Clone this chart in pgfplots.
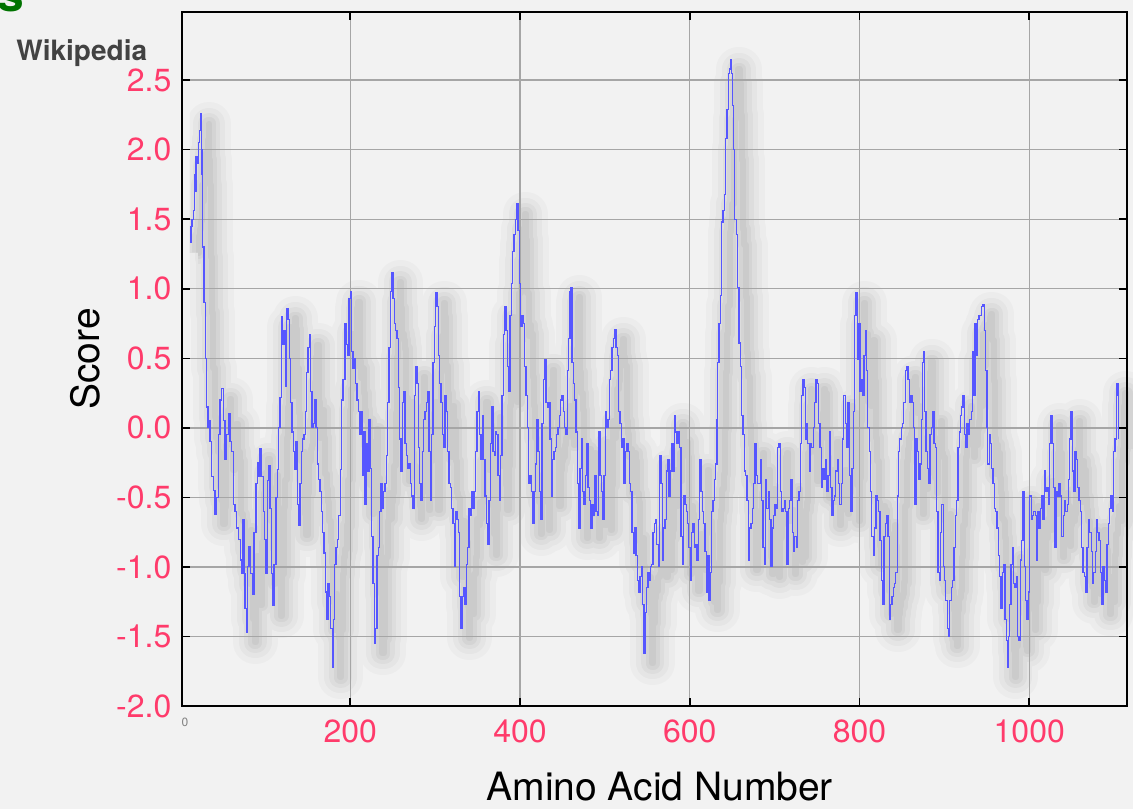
\documentclass[border=0pt]{standalone}
\usepackage{pgfplots}
\pgfplotsset{compat=1.18}
\usepackage{pgfplotstable}
\usepackage{fontspec}
\setmainfont{TeX Gyre Heros}

\definecolor{paper}{HTML}{F2F2F2}
\definecolor{hydro}{HTML}{5656FF}
\definecolor{ticktext}{HTML}{FF3B6B}
\definecolor{gridc}{HTML}{A6A6A6}
\definecolor{wikigray}{HTML}{424242}

% hydropathy score per residue
\pgfplotstableread{
x y
11.5 1.33
12.3 1.45
13.5 1.50
15.1 1.56
16.0 1.82
17.0 1.70
18.2 1.95
19.5 1.90
21.0 2.05
22.5 2.14
23.7 2.26
24.5 2.00
25.3 1.82
26.1 1.30
27.6 0.90
29.2 0.50
30.8 0.15
32.3 0.00
33.5 0.05
34.7 -0.10
36.7 -0.35
38.6 -0.45
40.6 -0.62
42.6 -0.50
44.5 -0.05
46.5 0.20
48.5 0.28
50.4 0.05
52.4 -0.23
54.3 -0.05
56.3 0.10
58.3 -0.10
60.2 -0.17
62.2 -0.55
64.2 -0.60
66.1 -0.72
68.1 -0.80
70.1 -0.95
72.0 -1.05
73.2 -0.66
74.8 -1.05
75.9 -1.30
77.9 -1.47
79.1 -1.00
80.7 -0.85
82.6 -1.05
84.6 -1.20
86.5 -0.75
88.9 -0.40
90.5 -0.25
92.0 -0.35
93.6 -0.15
95.6 -0.35
97.5 -0.60
99.1 -0.80
100.7 -1.05
102.3 -0.38
103.8 -0.27
105.4 -0.58
107.0 -1.05
108.5 -1.28
110.1 -0.98
112.5 -0.50
114.0 -0.30
115.6 0.00
117.2 0.22
118.8 0.80
120.3 0.60
121.9 0.70
123.5 0.30
125.0 0.86
126.6 0.78
128.2 0.50
129.7 0.18
131.3 -0.03
132.9 -0.17
134.5 -0.30
136.0 -0.10
137.6 -0.55
138.8 -0.70
140.7 -0.40
142.3 -0.17
143.9 -0.08
145.5 -0.05
147.0 0.12
148.6 0.40
150.2 0.58
151.7 0.67
153.3 0.26
154.9 0.00
156.5 0.03
158.0 0.20
159.6 0.00
161.2 -0.26
162.7 -0.37
164.3 -0.46
165.9 -0.60
167.5 -0.75
169.0 -0.90
170.6 -1.18
172.2 -1.38
173.7 -1.12
175.3 -1.21
176.9 -1.44
178.5 -1.72
180.0 -1.38
181.6 -0.98
183.2 -0.86
184.8 -0.80
186.3 -0.63
188.3 -0.30
189.8 0.20
191.4 0.35
193.8 0.75
195.3 0.60
196.9 0.52
198.5 0.93
200.0 0.98
201.6 0.55
203.2 0.43
204.8 0.50
206.3 0.32
207.9 0.20
209.5 0.12
211.0 -0.05
212.6 0.12
214.2 -0.34
215.8 -0.03
217.3 -0.55
218.9 -0.11
220.5 -0.31
222.0 0.06
223.6 -0.29
225.2 -0.78
226.7 -1.12
228.3 -1.55
229.9 -1.44
231.5 -0.92
233.0 -0.86
234.6 -0.60
236.2 -0.40
237.7 -0.58
239.3 -0.46
240.9 -0.40
242.5 -0.20
244.0 0.18
245.6 0.58
247.2 0.98
248.7 1.12
250.3 0.93
251.9 0.75
253.5 0.70
255.0 0.64
256.6 0.29
258.2 -0.08
259.7 -0.31
261.3 0.18
262.9 0.26
264.5 -0.11
266.0 -0.20
267.6 -0.29
269.2 -0.26
270.7 -0.40
272.3 -0.49
273.9 -0.58
275.4 0.23
277.0 0.44
278.6 0.32
280.2 -0.14
281.7 -0.40
283.3 -0.52
284.9 -0.17
286.5 0.06
288.0 0.12
289.6 0.18
291.2 0.26
292.7 -0.17
294.3 -0.52
295.9 -0.05
297.4 0.47
299.0 0.73
300.6 0.97
302.2 0.87
303.7 0.52
305.3 0.32
306.9 0.18
308.4 -0.05
310.0 -0.14
311.6 0.23
313.2 0.12
314.7 -0.17
316.3 -0.40
317.9 -0.43
319.4 -0.58
321.0 -0.69
322.6 -1.00
324.2 -0.60
325.7 -0.66
327.3 -0.75
328.9 -1.21
330.4 -1.44
332.0 -1.21
333.6 -1.15
335.1 -1.27
336.7 -0.98
338.3 -0.86
339.9 -0.58
341.4 -0.63
343.0 -0.46
344.6 -0.58
346.1 -0.46
347.7 -0.17
349.3 0.12
350.9 0.26
352.4 -0.05
354.0 -0.23
355.6 0.09
357.2 -0.23
358.7 -0.49
360.3 -0.69
361.9 -0.84
363.4 -0.52
365.0 -0.11
366.6 0.15
368.1 -0.17
369.7 -0.20
370.9 -0.03
372.5 -0.05
374.0 -0.34
375.6 -0.52
377.2 -0.20
378.7 0.23
380.3 0.67
381.9 0.87
383.5 0.70
385.0 0.44
386.6 0.26
388.2 0.81
389.7 1.04
391.3 1.27
392.9 1.39
394.5 1.50
396.0 1.61
397.6 1.42
399.2 1.04
400.7 0.73
402.3 0.81
403.9 0.75
405.4 0.44
407.0 0.23
408.6 0.00
410.2 -0.40
411.7 -0.34
413.3 -0.46
414.9 -0.69
416.4 -0.46
418.0 -0.26
419.6 0.06
421.2 -0.17
422.7 -0.46
424.3 -0.66
425.9 0.03
427.4 0.35
429.0 0.49
430.6 0.18
432.2 0.15
433.7 0.18
435.3 -0.08
436.9 -0.49
438.4 -0.23
440.0 -0.17
441.6 -0.14
443.2 -0.05
444.7 0.00
446.3 0.09
447.9 0.20
449.4 0.23
451.0 0.12
452.6 0.00
454.2 -0.05
455.7 0.41
457.3 0.64
458.9 0.98
459.7 1.01
461.2 0.47
462.8 0.32
464.4 0.20
465.9 -0.03
467.5 -0.40
469.1 -0.72
470.6 -0.29
472.2 -0.08
473.8 -0.46
475.4 -0.55
476.9 -0.34
478.5 -0.11
480.1 -0.43
481.6 -0.52
483.2 -0.72
484.8 -0.55
486.4 -0.63
487.9 -0.34
489.5 -0.60
491.1 -0.63
492.6 -0.03
494.2 -0.34
495.8 -0.46
497.4 -0.66
498.9 -0.34
500.5 0.12
502.1 0.00
503.6 0.06
505.2 0.35
506.8 0.41
508.4 0.58
509.9 0.64
511.5 0.71
513.1 0.58
514.6 0.52
516.2 0.12
517.8 0.03
519.4 -0.14
520.9 -0.08
522.5 -0.40
524.1 -0.17
525.6 -0.11
527.2 -0.17
528.8 -0.40
530.4 -0.46
531.9 -0.75
533.5 -0.90
535.1 -0.72
536.6 -0.92
538.2 -1.10
539.8 -1.18
541.3 -1.07
542.9 -1.00
544.5 -1.27
546.1 -1.62
547.6 -1.33
549.2 -1.15
550.8 -1.04
552.3 -1.10
553.5 -1.00
555.1 -0.98
556.6 -0.75
558.2 -0.69
559.8 -0.66
561.3 -0.84
562.9 -1.00
564.5 -0.20
566.1 -0.40
567.6 -0.95
569.2 -0.72
570.8 -0.66
572.3 -0.31
573.9 -0.23
575.5 -0.49
577.1 -0.31
578.6 -0.11
580.2 -0.31
581.8 0.09
583.3 -0.03
584.9 -0.11
586.5 -0.03
588.0 -0.14
589.6 -0.78
591.2 -0.98
592.8 -0.49
594.3 -0.55
595.9 -0.60
597.5 -0.69
599.0 -0.86
600.6 -1.10
602.2 -0.75
603.8 -0.69
605.3 -0.86
606.9 -0.84
608.5 -0.95
610.0 -0.66
611.6 -0.23
613.2 -0.46
614.8 -0.60
616.3 -0.69
617.9 -0.89
619.5 -1.18
621.0 -0.92
622.6 -1.24
624.2 -1.04
625.8 -0.60
627.3 -0.52
628.9 -0.37
630.5 -0.26
632.0 0.06
632.8 0.47
634.4 0.75
636.0 0.95
637.5 1.48
639.1 1.56
640.7 1.68
642.2 2.08
643.8 2.29
645.4 2.55
647.0 2.58
647.7 2.65
649.3 2.55
650.5 2.32
651.7 2.00
653.2 1.50
654.8 1.39
656.4 1.01
658.0 0.61
659.5 0.44
661.1 0.09
662.7 -0.05
664.2 -0.31
665.8 -0.34
667.4 -0.52
669.0 -0.95
670.5 -0.72
672.1 -0.69
673.7 -0.58
675.2 -0.40
676.8 -0.11
678.4 -0.34
680.0 -0.40
681.5 -0.40
683.1 -0.23
684.7 -0.52
686.2 -0.86
687.8 -0.98
689.4 -0.37
690.9 -0.58
692.5 -0.46
694.1 -0.66
695.7 -1.00
697.2 -0.72
698.8 -0.63
700.4 -0.55
701.9 -0.58
703.5 -0.14
705.1 -0.11
706.7 -0.46
708.2 -0.60
709.8 -0.58
711.4 -0.52
712.9 -0.60
714.5 -0.98
716.1 -0.58
717.7 -0.52
719.2 -0.37
720.8 -0.75
722.4 -0.89
723.9 -0.78
725.5 -0.86
727.1 -0.52
728.7 -0.46
730.2 -0.11
731.8 0.23
733.4 0.35
734.9 0.29
736.1 -0.08
737.7 0.03
739.2 -0.11
740.8 -0.31
742.4 -0.11
743.9 -0.14
745.5 0.00
747.1 0.18
748.7 0.35
750.2 0.32
751.8 0.03
753.4 -0.14
754.9 -0.43
756.5 -0.29
758.1 -0.37
759.7 -0.23
761.2 -0.46
762.8 -0.34
764.4 -0.03
765.9 -0.43
767.5 -0.63
769.1 -0.52
770.6 -0.49
772.2 -0.31
773.8 -0.23
775.4 -0.40
776.9 -0.55
778.5 -0.40
780.1 -0.08
781.6 0.23
783.2 0.03
784.8 -0.14
786.4 0.18
787.9 -0.34
789.5 -0.60
791.1 -0.29
792.6 0.12
793.8 0.81
795.8 0.97
797.4 0.49
798.9 0.75
800.5 0.26
802.1 0.35
803.6 0.23
805.2 0.52
806.8 0.70
808.4 0.41
809.9 0.00
811.5 -0.17
813.1 -0.46
814.6 -0.78
816.2 -0.92
817.8 -0.72
819.4 -0.49
820.9 -0.52
822.5 -0.60
824.1 -0.81
825.6 -1.10
827.2 -1.27
828.8 -0.78
830.4 -0.69
831.9 -0.63
833.5 -0.78
835.1 -1.38
836.6 -1.27
838.2 -1.21
839.8 -1.15
841.3 -1.12
842.9 -1.04
844.5 -0.49
846.1 -0.17
847.6 -0.08
849.2 0.00
850.8 0.03
852.3 0.18
853.9 0.41
855.5 0.44
857.1 0.35
858.6 0.18
860.2 0.23
861.8 0.18
863.3 0.00
864.9 -0.55
866.5 -0.08
868.1 -0.17
869.6 -0.37
871.2 -0.26
872.8 0.06
873.9 0.47
875.1 0.55
876.7 0.12
878.3 -0.17
879.8 -0.29
881.4 -0.40
883.0 -0.05
884.6 0.00
886.1 0.12
887.7 -0.11
889.3 -0.14
890.8 -0.60
892.4 -1.04
894.0 -1.10
895.6 -0.75
897.1 -0.55
898.7 -1.00
900.3 -1.10
901.8 -1.24
903.4 -1.44
905.0 -1.50
906.5 -1.24
908.1 -1.15
909.7 -1.10
911.3 -0.86
912.8 -0.63
914.4 -0.52
916.0 -0.14
917.5 -0.03
918.8 0.09
920.4 0.15
921.9 0.23
923.5 -0.05
925.1 -0.14
926.6 0.03
928.2 -0.05
929.8 0.06
931.4 0.12
932.9 0.55
934.5 0.23
936.1 0.75
937.6 0.52
939.2 0.78
940.8 0.81
942.4 0.81
943.9 0.87
945.5 0.89
947.1 0.70
948.6 0.41
950.2 0.00
951.0 -0.26
952.6 -0.05
954.1 -0.11
955.7 -0.29
957.3 -0.40
958.8 -0.58
960.4 -0.60
962.0 -0.72
963.6 -0.92
965.1 -1.07
966.7 -1.30
968.3 -1.04
969.8 -0.98
971.4 -1.38
973.0 -1.53
974.2 -1.72
975.3 -1.50
976.9 -1.27
978.5 -0.98
980.1 -0.86
981.6 -1.12
983.2 -1.15
984.8 -1.07
986.3 -1.50
987.9 -1.53
989.5 -0.95
991.1 -0.81
992.6 -0.46
994.2 -1.00
995.8 -1.24
997.3 -1.38
998.9 -1.18
1000.5 -0.49
1002.1 -0.66
1003.6 -0.63
1005.2 -0.60
1006.8 -0.63
1008.3 -0.95
1009.9 -0.60
1011.5 -0.72
1013.0 -0.58
1014.6 -0.49
1016.2 -0.66
1017.8 -0.31
1019.3 -0.46
1020.9 -0.43
1022.5 -0.55
1024.0 -0.11
1025.6 0.09
1027.2 -0.11
1028.8 -0.43
1030.3 -0.86
1031.9 -0.46
1033.5 -0.49
1035.0 -0.40
1036.6 -0.49
1038.2 -0.78
1039.8 -0.63
1041.3 -0.52
1042.9 -0.60
1044.5 -0.55
1046.0 -0.37
1047.6 -0.08
1049.2 0.12
1050.8 -0.31
1052.3 -0.46
1053.9 -0.17
1055.5 -0.23
1057.0 -0.43
1058.6 -0.52
1060.2 -0.60
1061.8 -0.86
1063.3 -1.04
1064.9 -1.07
1066.5 -1.18
1068.0 -0.86
1069.6 -0.66
1071.2 -0.75
1072.8 -0.89
1074.3 -1.12
1075.9 -1.04
1077.5 -0.89
1079.0 -0.66
1080.6 -0.75
1082.2 -0.81
1083.7 -1.04
1085.3 -1.27
1086.9 -1.00
1088.5 -1.10
1090.0 -1.18
1091.6 -0.84
1093.2 -0.69
1094.8 -0.58
1096.3 -0.49
1097.9 -0.60
1099.5 -0.17
1101.0 -0.08
1102.6 0.23
1103.4 0.32
1105.0 -0.08
}\hydropathy

\pgfplotsset{
    frame/.style={
        scale only axis,
        width=472.5pt, height=347pt,
        xmin=1.35, xmax=1114.8,
        ymin=-2, ymax=2.99,
    },
    shade/.style={const plot, black, line join=round},
}

\begin{document}
\begin{tikzpicture}
% page = 1133 x 809 px at 0.5pt per px, axis south west at origin
\path[fill=paper, use as bounding box] (-90.85pt,-51.5pt) rectangle (475.65pt,353pt);
% blurred drop shadow, drawn in a copy of the axis moved right and down
\begin{axis}[frame, hide axis, at={(4pt,-5pt)}]
\addplot[shade, opacity=0.022, line width=22pt] table {\hydropathy};
\addplot[shade, opacity=0.028, line width=16pt] table {\hydropathy};
\addplot[shade, opacity=0.032, line width=11pt] table {\hydropathy};
\addplot[shade, opacity=0.038, line width=6.5pt] table {\hydropathy};
\addplot[shade, opacity=0.04, line width=3pt] table {\hydropathy};
\end{axis}
\begin{axis}[
    frame,
    xtick={200,400,600,800,1000},
    xticklabels={200,400,600,800,1000},
    ytick={-2,-1.5,-1,-0.5,0,0.5,1,1.5,2,2.5},
    yticklabels={-2.0,-1.5,-1.0,-0.5,0.0,0.5,1.0,1.5,2.0,2.5},
    tick label style={font=\fontsize{16}{18}\selectfont, text=ticktext},
    yticklabel style={anchor=east, inner sep=0pt, xshift=-5pt},
    xticklabel style={anchor=north, inner sep=0pt, yshift=-6.5pt},
    grid=major,
    major grid style={gridc, line width=0.7pt},
    axis line style={black, line width=1pt},
    tick style={black, line width=0.8pt},
    major tick length=4pt,
    tick align=inside,
    xtick pos=both, ytick pos=both,
]
\addplot[const plot, hydro, line width=0.55pt] table {\hydropathy};
\end{axis}
\node[font=\fontsize{19.5}{22}\selectfont, rotate=90] at (-48.35pt,173.5pt) {Score};
\node[font=\fontsize{19.5}{22}\selectfont, anchor=base, inner sep=0pt] at (239pt,-47pt) {Amino Acid Number};
\node[font=\bfseries\fontsize{14}{16}\selectfont, text=wikigray, anchor=base west, inner sep=0pt] at (-82.85pt,322.5pt) {Wikipedia};
\node[font=\bfseries\fontsize{24}{26}\selectfont, text=green!45!black, anchor=base west, inner sep=0pt] at (-92.5pt,347pt) {s};
\node[font=\fontsize{6}{7}\selectfont, text=gray, inner sep=0pt] at (1.65pt,-8pt) {0};
\end{tikzpicture}
\end{document}
